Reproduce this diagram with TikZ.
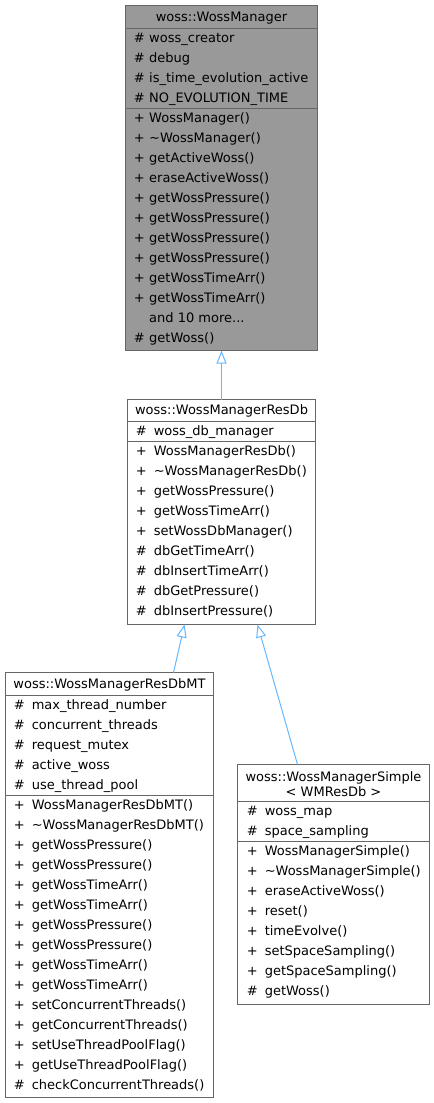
\documentclass[tikz,border=0pt]{standalone}
\usepackage{fontspec}
\setmainfont{DejaVu Sans}
\usetikzlibrary{arrows.meta}
\definecolor{edgec}{HTML}{63B8FF}
\definecolor{boxline}{HTML}{666666}
\definecolor{basefill}{HTML}{999999}
\newlength\symw
\newcommand\mrow[5]{\node[mtxt] (#1) at (#2,#3) {\makebox[\symw][l]{#4}#5};}
\newcommand\tl{\textasciitilde}
\begin{document}
\begin{tikzpicture}[x=0.75pt,y=-0.75pt,font=\fontsize{9.75pt}{12pt}\selectfont,
  box/.style={draw=boxline,line width=0.75pt,inner sep=0pt,outer sep=0pt,anchor=north west},
  sepl/.style={draw=boxline,line width=0.75pt},
  mtxt/.style={anchor=base west,inner sep=0pt,text=black},
  ttl/.style={anchor=base,inner sep=0pt,text=black},
  inh/.style={draw=edgec,line width=0.75pt,-{Triangle[fill=white,length=9.75pt,width=7.5pt]}}]
\useasboundingbox (-0.5,-0.5) rectangle (433.5,1102.5);
% boxes
\node[box,fill=basefill,minimum width=144pt,minimum height=258.75pt] (b1) at (125,5) {};
\node[box,fill=white,minimum width=141pt,minimum height=168.75pt] (b2) at (127,399) {};
\node[box,fill=white,minimum width=156pt,minimum height=318.75pt] (b3) at (5,672) {};
\node[box,fill=white,minimum width=144pt,minimum height=180pt] (b4) at (237,764) {};
% separators
\draw[sepl] (125,28) -- (317,28);
\draw[sepl] (125,108) -- (317,108);
\draw[sepl] (127,421) -- (315,421);
\draw[sepl] (127,441) -- (315,441);
\draw[sepl] (5,695) -- (213,695);
\draw[sepl] (5,795) -- (213,795);
\draw[sepl] (237,801) -- (429,801);
\draw[sepl] (237,841) -- (429,841);
% connectors
\draw[inh] (b2.north) -- (b1.south);
\draw[inh] ([xshift=126pt]b3.north west) -- ([xshift=42.75pt]b2.south west);
\draw[inh] ([xshift=45pt]b4.north west) -- ([xshift=97.5pt]b2.south west);
% box 1
\node[ttl] (t1) at (221,21) {woss::WossManager};
\setlength\symw{11.6pt}
\mrow{a11}{133}{42}{\#}{woss\_creator}
\mrow{a12}{133}{62}{\#}{debug}
\mrow{a13}{133}{82}{\#}{is\_time\_evolution\_active}
\mrow{a14}{133}{102}{\#}{NO\_EVOLUTION\_TIME}
\mrow{m11}{133}{122}{+}{WossManager()}
\mrow{m12}{133}{142}{+}{\tl WossManager()}
\mrow{m13}{133}{162}{+}{getActiveWoss()}
\mrow{m14}{133}{182}{+}{eraseActiveWoss()}
\mrow{m15}{133}{202}{+}{getWossPressure()}
\mrow{m16}{133}{222}{+}{getWossPressure()}
\mrow{m17}{133}{242}{+}{getWossPressure()}
\mrow{m18}{133}{262}{+}{getWossPressure()}
\mrow{m19}{133}{282}{+}{getWossTimeArr()}
\mrow{m110}{133}{302}{+}{getWossTimeArr()}
\mrow{m111}{133}{322}{}{and 10 more...}
\mrow{m112}{133}{342}{\#}{getWoss()}
% box 2
\node[ttl] (t2) at (221,414) {woss::WossManagerResDb};
\setlength\symw{13.5pt}
\mrow{a21}{135}{435}{\#}{woss\_db\_manager}
\mrow{m21}{135}{455}{+}{WossManagerResDb()}
\mrow{m22}{135}{475}{+}{\tl WossManagerResDb()}
\mrow{m23}{135}{495}{+}{getWossPressure()}
\mrow{m24}{135}{515}{+}{getWossTimeArr()}
\mrow{m25}{135}{535}{+}{setWossDbManager()}
\mrow{m26}{135}{555}{\#}{dbGetTimeArr()}
\mrow{m27}{135}{575}{\#}{dbInsertTimeArr()}
\mrow{m28}{135}{595}{\#}{dbGetPressure()}
\mrow{m29}{135}{615}{\#}{dbInsertPressure()}
% box 3
\node[ttl] (t3) at (109,688) {woss::WossManagerResDbMT};
\mrow{a31}{13}{709}{\#}{max\_thread\_number}
\mrow{a32}{13}{729}{\#}{concurrent\_threads}
\mrow{a33}{13}{749}{\#}{request\_mutex}
\mrow{a34}{13}{769}{\#}{active\_woss}
\mrow{a35}{13}{789}{\#}{use\_thread\_pool}
\mrow{m31}{13}{809}{+}{WossManagerResDbMT()}
\mrow{m32}{13}{829}{+}{\tl WossManagerResDbMT()}
\mrow{m33}{13}{849}{+}{getWossPressure()}
\mrow{m34}{13}{869}{+}{getWossPressure()}
\mrow{m35}{13}{889}{+}{getWossTimeArr()}
\mrow{m36}{13}{909}{+}{getWossTimeArr()}
\mrow{m37}{13}{929}{+}{getWossPressure()}
\mrow{m38}{13}{949}{+}{getWossPressure()}
\mrow{m39}{13}{969}{+}{getWossTimeArr()}
\mrow{m310}{13}{989}{+}{getWossTimeArr()}
\mrow{m311}{13}{1009}{+}{setConcurrentThreads()}
\mrow{m312}{13}{1029}{+}{getConcurrentThreads()}
\mrow{m313}{13}{1049}{+}{setUseThreadPoolFlag()}
\mrow{m314}{13}{1069}{+}{getUseThreadPoolFlag()}
\mrow{m315}{13}{1089}{\#}{checkConcurrentThreads()}
% box 4
\node[ttl] (t4a) at (333,781) {woss::WossManagerSimple};
\node[ttl] (t4b) at (333,796) {< WMResDb >};
\mrow{a41}{246}{815}{\#}{woss\_map}
\mrow{a42}{246}{835}{\#}{space\_sampling}
\mrow{m41}{246}{855}{+}{WossManagerSimple()}
\mrow{m42}{246}{875}{+}{\tl WossManagerSimple()}
\mrow{m43}{246}{895}{+}{eraseActiveWoss()}
\mrow{m44}{246}{915}{+}{reset()}
\mrow{m45}{246}{935}{+}{timeEvolve()}
\mrow{m46}{246}{955}{+}{setSpaceSampling()}
\mrow{m47}{246}{975}{+}{getSpaceSampling()}
\mrow{m48}{246}{995}{\#}{getWoss()}
\end{tikzpicture}
\end{document}
